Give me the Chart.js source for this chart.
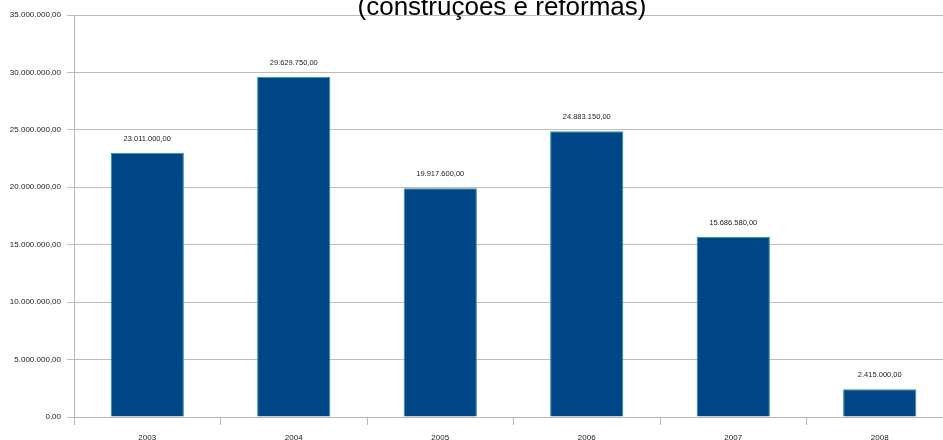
<!DOCTYPE html>
<html>
<head>
<meta charset="utf-8">
<script src="https://cdn.jsdelivr.net/npm/chart.js@4"></script>
<style>
  html, body { margin: 0; padding: 0; background: #fff; overflow: hidden; }
  #wrap { position: relative; width: 960px; height: 440px; }
</style>
</head>
<body>
<div id="wrap"><canvas id="chart" width="960" height="440"></canvas></div>
<script>
// ─── Data ───────────────────────────────────────────────
const anos = ["2003", "2004", "2005", "2006", "2007", "2008"];
const valores = [23011000, 29629750, 19917600, 24883150, 15686580, 2415000];
const titulo = "(construções e reformas)";
const yMax = 35000000;
const yStep = 5000000;

// 1234567.5 -> "1.234.567,50"
function fmtBR(v) {
  const parts = Number(v).toFixed(2).split(".");
  const inteiro = parts[0].replace(/\B(?=(\d{3})+(?!\d))/g, ".");
  return inteiro + "," + parts[1];
}

const FONT = "'Liberation Sans', Arial, sans-serif";

// title + value labels
const extras = {
  id: "extras",
  afterDatasetsDraw(chart) {
    const ctx = chart.ctx;
    ctx.save();
    ctx.fillStyle = "#000";
    ctx.font = "26px " + FONT;
    ctx.textAlign = "center";
    ctx.textBaseline = "alphabetic";
    ctx.fillText(titulo, 502, 15);

    ctx.fillStyle = "#222";
    ctx.font = "7.5px " + FONT;
    ctx.textBaseline = "middle";
    const meta = chart.getDatasetMeta(0);
    meta.data.forEach((bar, i) => {
      ctx.fillText(fmtBR(valores[i]), bar.x, bar.y - 14);
    });
    ctx.restore();
  }
};

new Chart(document.getElementById("chart").getContext("2d"), {
  type: "bar",
  data: {
    labels: anos,
    datasets: [{
      data: valores,
      backgroundColor: "#004586",
      borderColor: "#2a9696",
      borderWidth: 1,
      categoryPercentage: 1,
      barPercentage: 0.5
    }]
  },
  options: {
    responsive: false,
    animation: false,
    layout: { padding: { top: 15, right: 7, left: 0, bottom: 0 } },
    plugins: {
      legend: { display: false },
      title: { display: false },
      tooltip: { enabled: false }
    },
    scales: {
      x: {
        offset: true,
        grid: {
          offset: true,
          drawOnChartArea: false,
          color: "#b8b8b8",
          tickLength: 8
        },
        border: { display: true, color: "#b8b8b8" },
        ticks: {
          color: "#222",
          font: { family: FONT, size: 8 },
          padding: 8,
          maxRotation: 0
        },
        afterFit(axis) { axis.height = 23; }
      },
      y: {
        min: 0,
        max: yMax,
        grid: { color: "#bdbdbd", tickLength: 7 },
        border: { display: true, color: "#b8b8b8" },
        ticks: {
          stepSize: yStep,
          color: "#222",
          font: { family: FONT, size: 8 },
          padding: 6,
          callback: (v) => fmtBR(v)
        },
        afterFit(axis) { axis.width = 74; }
      }
    }
  },
  plugins: [extras]
});
</script>
</body>
</html>
